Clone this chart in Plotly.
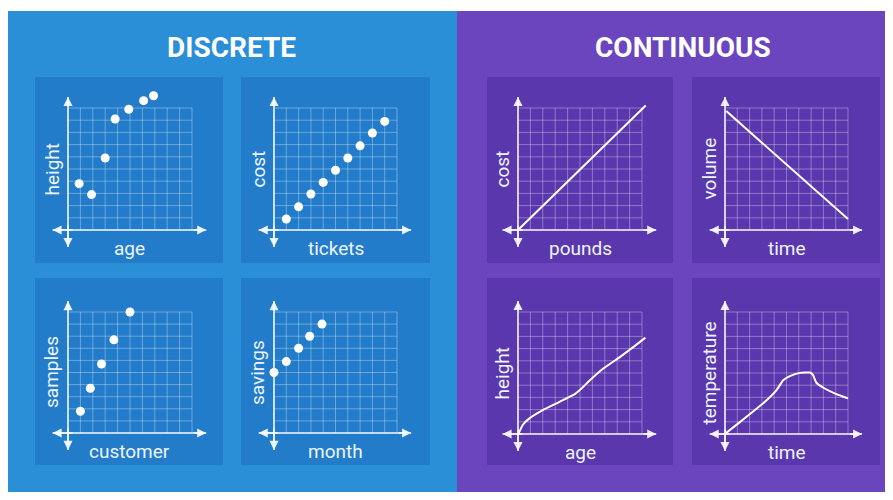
import plotly.graph_objects as go

W, H = 893, 500
OFF = 8  # the page body adds an 8px margin, so pixel positions are shifted back by it

# ---- data (grid units, 10 x 10 grid) ----
age_d = [0.9, 1.9, 3.0, 3.8, 4.9, 6.1, 6.9]
height_d = [3.8, 2.9, 5.9, 9.1, 9.9, 10.6, 11.0]

tickets = [1, 2, 3, 4, 5, 6, 7, 8, 9]
cost_d = [0.9, 1.9, 2.95, 3.9, 4.9, 5.9, 6.9, 7.95, 8.9]

customer = [1.0, 1.8, 2.7, 3.7, 5.0]
samples = [1.8, 3.7, 5.7, 7.7, 10.0]

month = [0, 1, 2, 2.9, 3.9]
savings = [5.0, 5.9, 7.0, 8.0, 9.0]

pounds = [0, 10.3]
cost_c = [0, 10.2]

time_v = [0.1, 10.0]
volume = [9.75, 0.9]

age_c = [0.05, 0.38, 0.92, 2.0, 3.36, 4.58, 5.12, 5.8, 6.88, 8.24, 9.32, 10.27]
height_c = [0.05, 0.74, 1.28, 1.96, 2.64, 3.27, 3.73, 4.41, 5.37, 6.32, 7.14, 7.9]

time_t = [0.05, 1.08, 2.16, 3.24, 4.19, 4.73, 5.27, 6.08, 6.89, 7.16, 7.43, 8.11, 9.05, 10.0]
temperature = [0.05, 0.87, 1.74, 2.64, 3.6, 4.41, 4.74, 5.01, 5.04, 4.82, 4.2, 3.73, 3.27, 2.92]

GRID_STEPS = list(range(0, 11))
XR = [-1.5, 11.5]
YR = [-1.6, 11.5]

BLUE_BG = "#2b8fd8"
BLUE_PANEL = "#1f74c4"
PURPLE_BG = "#6a45bd"
PURPLE_PANEL = "#5632a8"
GRID = "rgba(255,255,255,0.32)"
AXIS = "rgba(255,255,255,0.9)"
LABEL = "#eef4ff"
FONT = "Roboto, 'Open Sans', sans-serif"


def px(x):
    return (x - OFF) / W


def py(y):
    return 1 - (y - OFF) / H


# panel: (grid box in px [x0, x1, y0, y1], card box, xlabel, ylabel, x, y, mode)
panels = [
    ((68, 192, 108, 230), (35, 223, 77, 263), "age", "height", age_d, height_d, "markers"),
    ((274, 397, 108, 230), (241, 430, 77, 263), "tickets", "cost", tickets, cost_d, "markers"),
    ((68, 192, 312, 433), (35, 223, 278, 465), "customer", "samples", customer, samples, "markers"),
    ((274, 397, 312, 433), (241, 430, 278, 465), "month", "savings", month, savings, "markers"),
    ((518, 642, 108, 230), (487, 673, 77, 263), "pounds", "cost", pounds, cost_c, "lines"),
    ((725, 848, 108, 230), (692, 880, 77, 263), "time", "volume", time_v, volume, "lines"),
    ((518, 642, 312, 434), (487, 673, 278, 465), "age", "height", age_c, height_c, "lines"),
    ((725, 848, 312, 434), (692, 880, 278, 465), "time", "temperature", time_t, temperature, "lines"),
]

fig = go.Figure()
shapes = [
    dict(type="rect", xref="paper", yref="paper", x0=0, x1=px(457), y0=py(492), y1=py(11),
         fillcolor=BLUE_BG, line_width=0, layer="below"),
    dict(type="rect", xref="paper", yref="paper", x0=px(457), x1=1, y0=py(492), y1=py(11),
         fillcolor=PURPLE_BG, line_width=0, layer="below"),
]
annotations = [
    dict(text="<b>DISCRETE</b>", x=px(231), y=py(48), xref="paper", yref="paper", showarrow=False,
         font=dict(family=FONT, size=28, color="white"), xanchor="center", yanchor="middle"),
    dict(text="<b>CONTINUOUS</b>", x=px(683), y=py(48), xref="paper", yref="paper", showarrow=False,
         font=dict(family=FONT, size=28, color="white"), xanchor="center", yanchor="middle"),
]

layout_axes = {}
for i, (g, card, xl, yl, xs, ys, mode) in enumerate(panels, start=1):
    gx0, gx1, gy0, gy1 = g
    cx = (gx1 - gx0) / 10
    cy = (gy1 - gy0) / 10
    sfx = "" if i == 1 else str(i)
    xname, yname = "x" + sfx, "y" + sfx
    purple = i > 4
    shapes.append(dict(type="rect", xref="paper", yref="paper",
                       x0=px(card[0]), x1=px(card[1]), y0=py(card[3]), y1=py(card[2]),
                       fillcolor=PURPLE_PANEL if purple else BLUE_PANEL, opacity=0.7,
                       line_width=0, layer="below"))
    common = dict(showgrid=False, zeroline=False, showticklabels=False, ticks="", showline=False,
                  fixedrange=True)
    layout_axes["xaxis" + sfx] = dict(domain=[px(gx0 + XR[0] * cx), px(gx0 + XR[1] * cx)],
                                      range=XR, anchor=yname, **common)
    layout_axes["yaxis" + sfx] = dict(domain=[py(gy1 - YR[0] * cy), py(gy1 - YR[1] * cy)],
                                      range=YR, anchor=xname, **common)

    # grid (10 x 10 cells)
    for v in GRID_STEPS:
        shapes.append(dict(type="line", xref=xname, yref=yname, x0=v, x1=v, y0=0, y1=10,
                           line=dict(color=GRID, width=1), layer="below"))
        shapes.append(dict(type="line", xref=xname, yref=yname, x0=0, x1=10, y0=v, y1=v,
                           line=dict(color=GRID, width=1), layer="below"))

    # axis lines
    shapes.append(dict(type="line", xref=xname, yref=yname, x0=-1.25, x1=11.15, y0=0, y1=0,
                       line=dict(color=AXIS, width=1.6)))
    shapes.append(dict(type="line", xref=xname, yref=yname, x0=0, x1=0, y0=-1.4, y1=10.9,
                       line=dict(color=AXIS, width=1.6)))
    # arrow heads
    for hx, hy, tx, ty in [(11.15, 0, 10, 0), (-1.25, 0, 0.5, 0), (0, 10.9, 0, 10), (0, -1.4, 0, 0.5)]:
        annotations.append(dict(x=hx, y=hy, ax=tx, ay=ty, xref=xname, yref=yname, axref=xname, ayref=yname,
                                text="", showarrow=True, arrowhead=2, arrowsize=1.3, arrowwidth=1.4,
                                arrowcolor=AXIS, standoff=0, startstandoff=0))
    # labels
    annotations.append(dict(text=xl, x=px((gx0 + gx1) / 2), y=py(gy1 + 18), xref="paper", yref="paper",
                            showarrow=False, xanchor="center", yanchor="middle",
                            font=dict(family=FONT, size=19, color=LABEL)))
    annotations.append(dict(text=yl, x=px(gx0 - 16.5), y=py((gy0 + gy1) / 2), xref="paper", yref="paper",
                            showarrow=False, xanchor="center", yanchor="middle", textangle=-90,
                            font=dict(family=FONT, size=19, color=LABEL)))

    if mode == "markers":
        fig.add_trace(go.Scatter(x=xs, y=ys, mode="markers", xaxis=xname, yaxis=yname,
                                 marker=dict(color="white", size=9), showlegend=False, hoverinfo="skip"))
    else:
        fig.add_trace(go.Scatter(x=xs, y=ys, mode="lines", xaxis=xname, yaxis=yname,
                                 line=dict(color="white", width=2, shape="spline", smoothing=0.35),
                                 showlegend=False, hoverinfo="skip"))

fig.update_layout(
    width=W, height=H,
    margin=dict(l=0, r=0, t=0, b=0),
    paper_bgcolor="white",
    plot_bgcolor="rgba(0,0,0,0)",
    shapes=shapes,
    annotations=annotations,
    showlegend=False,
    **layout_axes,
)

fig.write_html("out.html", config={"displayModeBar": False})
